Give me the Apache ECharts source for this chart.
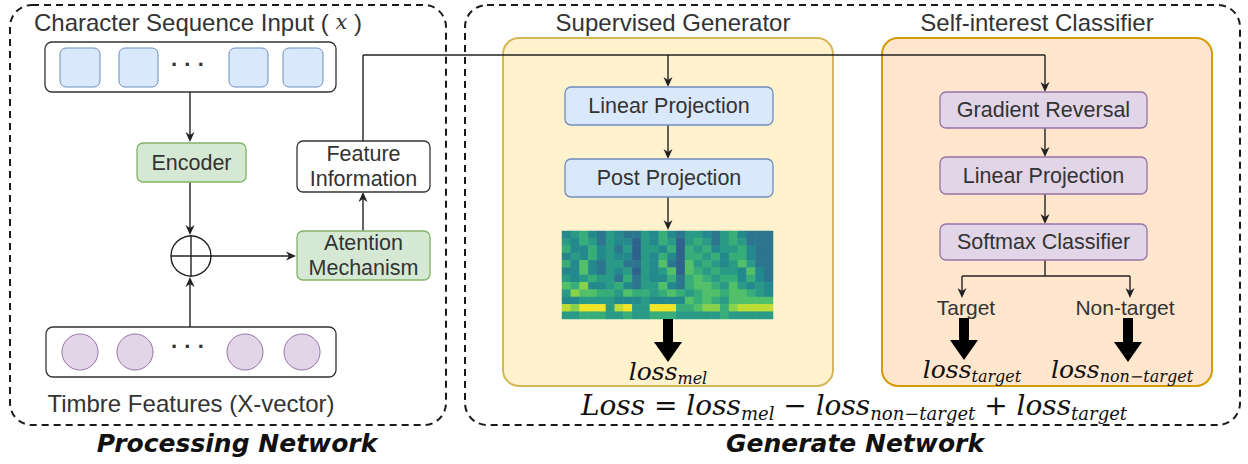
<!DOCTYPE html>
<html><head><meta charset="utf-8">
<script src="https://cdn.jsdelivr.net/npm/echarts@6/dist/echarts.min.js"></script>
<style>html,body{margin:0;padding:0;background:#fff}#c{width:1248px;height:464px}</style>
</head><body><div id="c"></div>
<script>
// ---------- content ----------
const titleLabels = ['Character Sequence Input ( {mx|x} )', 'Supervised Generator', 'Self-interest Classifier', 'Timbre Features (X-vector)'];
const blockLabels = ['Encoder', 'Feature\nInformation', 'Atention\nMechanism', 'Linear Projection', 'Post Projection', 'Gradient Reversal', 'Linear Projection', 'Softmax Classifier'];
const branchLabels = ['Target', 'Non-target'];
const lossLabels = ['{m|loss}{s|mel}', '{m|loss}{s|target}', '{m|loss}{s|non\u2212target}'];
const formulaLabel = '{m|Loss = loss}{s|mel}{m| \u2212 loss}{s|non\u2212target}{m| + loss}{s|target}';
const sectionLabels = ['Processing Network', 'Generate Network'];
const dotsLabel = '\u00b7 \u00b7 \u00b7';
// spectrogram intensity (0-9), rows top->bottom, 24 columns
const specRows = [
  '345324322435324432453222',
  '435424331435414542454222',
  '533534241443515453445322',
  '343534331435315545355322',
  '536324422436216454346422',
  '336324341434616545443632',
  '434544252433525654553532',
  '657334532446325665464343',
  '476655465545654566566543',
  '334444333433336565466666',
  '879994894499955677578888',
  '445554454455544444544444'
];

// ---------- layout ----------
const frameRects = [[10,5,446,425],[465,5,1240,425]];
const panelRects = [[503,38,833,386],[882,38,1212,386]];
const rowRects = [[45,42,336,92],[46,327,336,377]];
const tokenSquares = [[60,48,100,87],[119,48,158,87],[229,48,268,87],[283,48,323,87]];
const timbreCircles = [[80,352],[135,352],[245,352],[302,352]];
const blockRects = [[137,143,246,182],[297,141,430,192],[297,231,430,280],[565,87,773,125],[565,159,773,197],[940,92,1147,128],[940,157,1147,194],[940,224,1147,260]];
const blockKinds = ['green','white','green','blue','blue','purple','purple','purple'];
const sumNode = [191,256,20];
// connectors: x1,y1,x2,y2,arrowhead
const connectors = [
  [190,92,190,142,1],[190,182,190,235,1],[190,327,190,277,1],[211,256,296,256,1],
  [363,231,363,192,1],[363,141,363,55,0],[363,55,1045,55,0],[668,55,668,87,1],
  [1045,55,1045,92,1],[668,125,668,159,1],[668,197,668,230,1],[1045,128,1045,157,1],
  [1045,194,1045,224,1],[1045,260,1045,276,0],[962,276,1130,276,0],[962,276,962,298,1],[1130,276,1130,298,1]
];
// thick arrows: x, yStart, yTip
const thickArrows = [[668,319,362],[964,318,360],[1128,318,362]];
const titlePos = [[198,22],[673,22],[1037,22],[191,403]];
const blockTextPos = blockRects.map(r => [(r[0]+r[2])/2, (r[1]+r[3])/2]);
const branchPos = [[966,307],[1125,307]];
const lossPos = [[668,371],[972,369],[1122,369]];
const formulaPos = [854,405];
const sectionPos = [[237,443],[855,443]];
const dotsPos = [[188,64],[188,346]];
const specBox = {left:562, top:231, width:211, height:88};

const PAL = {
  green:['#d5e8d4','#82b366'], white:['#ffffff','#333333'], blue:['#dae8fc','#6c8ebf'],
  purple:['#e1d5e7','#9673a6'], yellow:['#fff2cc','#d6b656'], orange:['#ffe6cc','#d79b00']
};
const SANS = '"Liberation Sans", Arial, sans-serif';
const SERIF = '"DejaVu Serif", "Liberation Serif", serif';
const TXT = '#333333';
const LINE = '#222222';

function rectEl(api, r, rad, style) {
  const p1 = api.coord([r[0], r[1]]), p2 = api.coord([r[2], r[3]]);
  return {type:'rect', shape:{x:p1[0], y:p1[1], width:p2[0]-p1[0], height:p2[1]-p1[1], r:rad}, style:style};
}
function vals(api, n) { const a=[]; for (let i=0;i<n;i++) a.push(api.value(i)); return a; }

const mathRich = (big, small) => ({
  m:{fontFamily:SERIF, fontStyle:'italic', fontSize:big, lineHeight:big+6, fill:'#111', verticalAlign:'middle'},
  s:{fontFamily:SERIF, fontStyle:'italic', fontSize:small, lineHeight:big+6, fill:'#111', verticalAlign:'bottom'},
  mx:{fontFamily:SERIF, fontStyle:'italic', fontSize:21, fill:TXT}
});

function textSeries(name, positions, labels, styleFn, z) {
  return {
    type:'custom', name:name, xAxisIndex:0, yAxisIndex:0, z:z, silent:true, clip:false,
    data: positions.map((p,i) => [p[0], p[1], i]),
    renderItem: (params, api) => {
      const i = params.dataIndex;
      const c = api.coord([api.value(0), api.value(1)]);
      return {type:'text', x:c[0], y:c[1], style:Object.assign({text:labels[i], align:'center', verticalAlign:'middle'}, styleFn(i))};
    }
  };
}

const specData = [];
specRows.forEach((row, r) => { for (let c=0;c<row.length;c++) specData.push([c, r, +row[c]]); });

const chart = echarts.init(document.getElementById('c'), null, {renderer:'svg', width:1248, height:464});
chart.setOption({
  animation:false,
  backgroundColor:'#ffffff',
  grid:[{left:0, right:0, top:0, bottom:0}, Object.assign({}, specBox)],
  xAxis:[{type:'value', min:0, max:1248, show:false}, {type:'category', gridIndex:1, data:specRows[0].split('').map((_,i)=>i), show:false}],
  yAxis:[{type:'value', min:0, max:464, inverse:true, show:false}, {type:'category', gridIndex:1, data:specRows.map((_,i)=>i), inverse:true, show:false}],
  visualMap:{show:false, min:0, max:9, seriesIndex:4, inRange:{color:['#2c4f8c','#2f6b8e','#23898d','#2aa382','#52c068','#a3d93c','#f1e528']}},
  series:[
    {type:'custom', name:'frames', z:1, silent:true, clip:false, data:frameRects,
     renderItem:(p, api) => rectEl(api, vals(api,4), 22, {fill:'none', stroke:'#1a1a1a', lineWidth:2, lineDash:[7,5]})},
    {type:'custom', name:'panels', z:2, silent:true, clip:false, data:panelRects,
     renderItem:(p, api) => { const k = p.dataIndex===0?'yellow':'orange'; return rectEl(api, vals(api,4), 16, {fill:PAL[k][0], stroke:PAL[k][1], lineWidth:2}); }},
    {type:'custom', name:'rows', z:3, silent:true, clip:false, data:rowRects,
     renderItem:(p, api) => rectEl(api, vals(api,4), 7, {fill:'#ffffff', stroke:'#333', lineWidth:1.3})},
    {type:'custom', name:'tokens', z:4, silent:true, clip:false, data:tokenSquares,
     renderItem:(p, api) => rectEl(api, vals(api,4), 6, {fill:PAL.blue[0], stroke:PAL.blue[1], lineWidth:1})},
    {type:'heatmap', name:'spectrogram', xAxisIndex:1, yAxisIndex:1, z:4, data:specData, silent:true, itemStyle:{borderWidth:0}},
    {type:'custom', name:'timbre', z:4, silent:true, clip:false, data:timbreCircles,
     renderItem:(p, api) => { const c = api.coord([api.value(0), api.value(1)]); return {type:'circle', shape:{cx:c[0], cy:c[1], r:18}, style:{fill:PAL.purple[0], stroke:PAL.purple[1], lineWidth:1}}; }},
    {type:'custom', name:'connectors', z:5, silent:true, clip:false, data:connectors,
     renderItem:(p, api) => {
       const a = api.coord([api.value(0), api.value(1)]), b = api.coord([api.value(2), api.value(3)]);
       const children = [{type:'line', shape:{x1:a[0], y1:a[1], x2:b[0], y2:b[1]}, style:{stroke:LINE, lineWidth:1.4}}];
       if (api.value(4)) {
         const dx=b[0]-a[0], dy=b[1]-a[1], L=Math.hypot(dx,dy), ux=dx/L, uy=dy/L, nx=-uy, ny=ux;
         const len=10, w=4.5, notch=7;
         children[0].shape.x2 = b[0]-ux*notch; children[0].shape.y2 = b[1]-uy*notch;
         children.push({type:'polygon', shape:{points:[[b[0],b[1]],[b[0]-ux*len+nx*w,b[1]-uy*len+ny*w],[b[0]-ux*notch,b[1]-uy*notch],[b[0]-ux*len-nx*w,b[1]-uy*len-ny*w]]}, style:{fill:LINE}});
       }
       return {type:'group', children:children};
     }},
    {type:'custom', name:'sum', z:5, silent:true, clip:false, data:[sumNode],
     renderItem:(p, api) => {
       const c = api.coord([api.value(0), api.value(1)]), r = api.value(2);
       return {type:'group', children:[
         {type:'circle', shape:{cx:c[0], cy:c[1], r:r}, style:{fill:'#fff', stroke:LINE, lineWidth:1.4}},
         {type:'line', shape:{x1:c[0]-r, y1:c[1], x2:c[0]+r, y2:c[1]}, style:{stroke:LINE, lineWidth:1.4}},
         {type:'line', shape:{x1:c[0], y1:c[1]-r, x2:c[0], y2:c[1]+r}, style:{stroke:LINE, lineWidth:1.4}}]};
     }},
    {type:'custom', name:'blocks', z:6, silent:true, clip:false, data:blockRects,
     renderItem:(p, api) => { const k = blockKinds[p.dataIndex]; return rectEl(api, vals(api,4), 6, {fill:PAL[k][0], stroke:PAL[k][1], lineWidth:1.3}); }},
    {type:'custom', name:'thick', z:6, silent:true, clip:false, data:thickArrows,
     renderItem:(p, api) => {
       const s = api.coord([api.value(0), api.value(1)]), t = api.coord([api.value(0), api.value(2)]);
       const x=s[0], hw=14, sw=5, hl=20;
       return {type:'polygon', shape:{points:[[x-sw,s[1]],[x+sw,s[1]],[x+sw,t[1]-hl],[x+hw,t[1]-hl],[x,t[1]],[x-hw,t[1]-hl],[x-sw,t[1]-hl]]}, style:{fill:'#000'}};
     }},
    textSeries('titles', titlePos, titleLabels, i => ({fontFamily:SANS, fontSize:24, fill:TXT, rich:mathRich(24,16)}), 8),
    textSeries('blockText', blockTextPos, blockLabels, i => ({fontFamily:SANS, fontSize:21.5, lineHeight:25, fill:TXT}), 8),
    textSeries('branches', branchPos, branchLabels, i => ({fontFamily:SANS, fontSize:21, fill:TXT}), 8),
    textSeries('dots', dotsPos, [dotsLabel, dotsLabel], i => ({fontFamily:SANS, fontSize:22, fontWeight:'bold', fill:'#333'}), 8),
    textSeries('losses', lossPos, lossLabels, i => ({rich:mathRich(25,16)}), 8),
    textSeries('formula', [formulaPos], [formulaLabel], i => ({rich:mathRich(28,18)}), 8),
    textSeries('sections', sectionPos, sectionLabels, i => ({fontFamily:'"DejaVu Sans", Verdana, sans-serif', fontSize:25, fontWeight:'bold', fontStyle:'italic', fill:'#111'}), 8)
  ]
});
</script></body></html>
